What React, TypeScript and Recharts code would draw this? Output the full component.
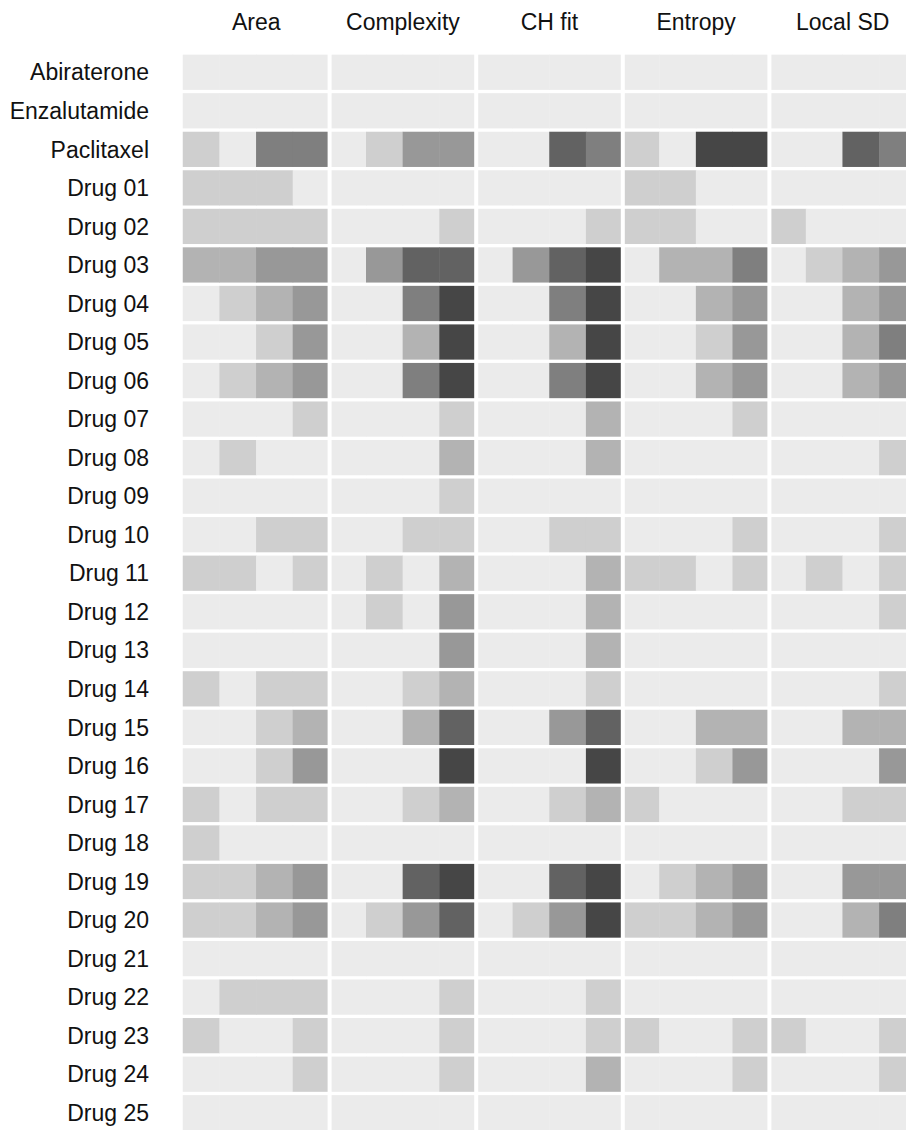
import React from "react";
import { ScatterChart, Scatter, XAxis, YAxis } from "recharts";

const DRUGS = [
  "Abiraterone", "Enzalutamide", "Paclitaxel",
  "Drug 01", "Drug 02", "Drug 03", "Drug 04", "Drug 05", "Drug 06", "Drug 07",
  "Drug 08", "Drug 09", "Drug 10", "Drug 11", "Drug 12", "Drug 13", "Drug 14",
  "Drug 15", "Drug 16", "Drug 17", "Drug 18", "Drug 19", "Drug 20", "Drug 21",
  "Drug 22", "Drug 23", "Drug 24", "Drug 25",
];

const METRICS = ["Area", "Complexity", "CH fit", "Entropy", "Local SD"];

// shade level per sub-column (0 = background, 6 = darkest), one row per drug
const AREA = [
  [0, 0, 0, 0], [0, 0, 0, 0], [1, 0, 4, 4],
  [1, 1, 1, 0], [1, 1, 1, 1], [2, 2, 3, 3], [0, 1, 2, 3], [0, 0, 1, 3],
  [0, 1, 2, 3], [0, 0, 0, 1], [0, 1, 0, 0], [0, 0, 0, 0], [0, 0, 1, 1],
  [1, 1, 0, 1], [0, 0, 0, 0], [0, 0, 0, 0], [1, 0, 1, 1], [0, 0, 1, 2],
  [0, 0, 1, 3], [1, 0, 1, 1], [1, 0, 0, 0], [1, 1, 2, 3], [1, 1, 2, 3],
  [0, 0, 0, 0], [0, 1, 1, 1], [1, 0, 0, 1], [0, 0, 0, 1], [0, 0, 0, 0],
];

const COMPLEXITY = [
  [0, 0, 0, 0], [0, 0, 0, 0], [0, 1, 3, 3],
  [0, 0, 0, 0], [0, 0, 0, 1], [0, 3, 5, 5], [0, 0, 4, 6], [0, 0, 2, 6],
  [0, 0, 4, 6], [0, 0, 0, 1], [0, 0, 0, 2], [0, 0, 0, 1], [0, 0, 1, 1],
  [0, 1, 0, 2], [0, 1, 0, 3], [0, 0, 0, 3], [0, 0, 1, 2], [0, 0, 2, 5],
  [0, 0, 0, 6], [0, 0, 1, 2], [0, 0, 0, 0], [0, 0, 5, 6], [0, 1, 3, 5],
  [0, 0, 0, 0], [0, 0, 0, 1], [0, 0, 0, 1], [0, 0, 0, 1], [0, 0, 0, 0],
];

const CH_FIT = [
  [0, 0, 0, 0], [0, 0, 0, 0], [0, 0, 5, 4],
  [0, 0, 0, 0], [0, 0, 0, 1], [0, 3, 5, 6], [0, 0, 4, 6], [0, 0, 2, 6],
  [0, 0, 4, 6], [0, 0, 0, 2], [0, 0, 0, 2], [0, 0, 0, 0], [0, 0, 1, 1],
  [0, 0, 0, 2], [0, 0, 0, 2], [0, 0, 0, 2], [0, 0, 0, 1], [0, 0, 3, 5],
  [0, 0, 0, 6], [0, 0, 1, 2], [0, 0, 0, 0], [0, 0, 5, 6], [0, 1, 3, 6],
  [0, 0, 0, 0], [0, 0, 0, 1], [0, 0, 0, 1], [0, 0, 0, 2], [0, 0, 0, 0],
];

const ENTROPY = [
  [0, 0, 0, 0], [0, 0, 0, 0], [1, 0, 6, 6],
  [1, 1, 0, 0], [1, 1, 0, 0], [0, 2, 2, 4], [0, 0, 2, 3], [0, 0, 1, 3],
  [0, 0, 2, 3], [0, 0, 0, 1], [0, 0, 0, 0], [0, 0, 0, 0], [0, 0, 0, 1],
  [1, 1, 0, 1], [0, 0, 0, 0], [0, 0, 0, 0], [0, 0, 0, 0], [0, 0, 2, 2],
  [0, 0, 1, 3], [1, 0, 0, 0], [0, 0, 0, 0], [0, 1, 2, 3], [1, 1, 2, 3],
  [0, 0, 0, 0], [0, 0, 0, 0], [1, 0, 0, 1], [0, 0, 0, 1], [0, 0, 0, 0],
];

const LOCAL_SD = [
  [0, 0, 0, 0], [0, 0, 0, 0], [0, 0, 5, 4],
  [0, 0, 0, 0], [1, 0, 0, 0], [0, 1, 2, 3], [0, 0, 2, 3], [0, 0, 2, 4],
  [0, 0, 2, 3], [0, 0, 0, 0], [0, 0, 0, 1], [0, 0, 0, 0], [0, 0, 0, 1],
  [0, 1, 0, 1], [0, 0, 0, 1], [0, 0, 0, 0], [0, 0, 0, 1], [0, 0, 2, 2],
  [0, 0, 0, 3], [0, 0, 1, 1], [0, 0, 0, 0], [0, 0, 3, 3], [0, 0, 2, 4],
  [0, 0, 0, 0], [0, 0, 0, 0], [1, 0, 0, 1], [0, 0, 0, 1], [0, 0, 0, 0],
];

const SHADES = ["#ebebeb", "#cfcfcf", "#b3b3b3", "#989898", "#7f7f7f", "#626262", "#464646"];

const GROUPS = [AREA, COMPLEXITY, CH_FIT, ENTROPY, LOCAL_SD];
const SUB = 4;

const W = 916;
const H = 1132;
const AXIS_LEFT = 183;
const AXIS_TOP = 53;
const CELL_W = (W - AXIS_LEFT) / (GROUPS.length * SUB);
const ROW_H = (H - AXIS_TOP) / DRUGS.length;
const CELL_H = ROW_H - 3.3;
const PANEL_GAP = 2; // white half-gap between metric panels

const cells = GROUPS.flatMap((levels, g) =>
  levels.flatMap((row, r) =>
    row.map((level, s) => ({ x: g * SUB + s + 0.5, y: r + 0.5, level, g, s }))
  )
);

const font = { fontFamily: "'Liberation Sans', Arial, sans-serif", fontSize: 23, fill: "#111" };

function Tile(props: any) {
  const { cx, cy, payload } = props;
  let left = cx - CELL_W / 2 - 0.25;
  let right = cx + CELL_W / 2 + 0.25;
  if (payload.s === 0 && payload.g > 0) left += PANEL_GAP + 0.25;
  if (payload.s === SUB - 1) right -= PANEL_GAP + 0.25;
  return (
    <rect
      x={left}
      y={cy - CELL_H / 2}
      width={right - left}
      height={CELL_H}
      fill={SHADES[payload.level]}
    />
  );
}

export default function App() {
  return (
    <div
      style={{
        position: "absolute",
        left: 0,
        top: 0,
        width: 906,
        height: 1130,
        overflow: "hidden",
        background: "#fff",
      }}
    >
      <ScatterChart width={W} height={H} margin={{ top: 0, right: 0, bottom: 0, left: 0 }}>
        <XAxis
          type="number"
          dataKey="x"
          orientation="top"
          domain={[0, GROUPS.length * SUB]}
          ticks={METRICS.map((_, i) => i * SUB + SUB / 2)}
          tickFormatter={(v: number) => METRICS[Math.round((v - SUB / 2) / SUB)]}
          interval={0}
          height={AXIS_TOP}
          axisLine={false}
          tickLine={false}
          tickSize={0}
          tickMargin={23}
          tick={font}
        />
        <YAxis
          type="number"
          dataKey="y"
          reversed
          domain={[0, DRUGS.length]}
          ticks={DRUGS.map((_, i) => i + 0.5)}
          tickFormatter={(v: number) => DRUGS[Math.floor(v)]}
          interval={0}
          width={AXIS_LEFT}
          axisLine={false}
          tickLine={false}
          tickSize={0}
          tickMargin={34}
          tick={font}
        />
        <Scatter data={cells} shape={<Tile />} isAnimationActive={false} />
      </ScatterChart>
    </div>
  );
}
